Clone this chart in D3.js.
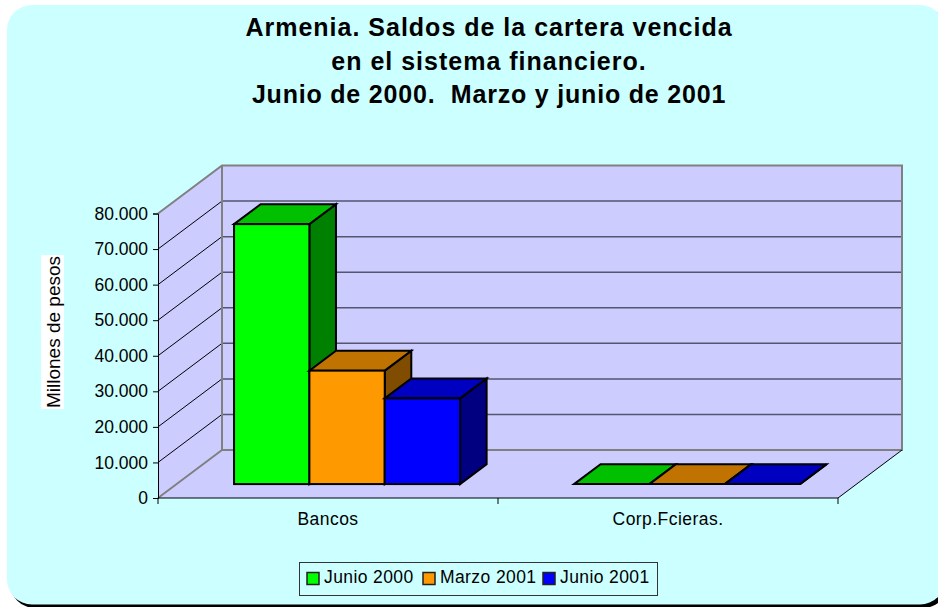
<!DOCTYPE html>
<html>
<head>
<meta charset="utf-8">
<script src="https://cdn.jsdelivr.net/npm/d3@7"></script>
<style>
  html, body { margin: 0; padding: 0; background: #fff; }
  svg { display: block; }
  text { font-family: "Liberation Sans", Arial, sans-serif; fill: #000; }
</style>
</head>
<body>
<div id="chart"></div>
<script>
const titleLines = ['Armenia. Saldos de la cartera vencida', 'en el sistema financiero.', 'Junio de 2000.  Marzo y junio de 2001'];
const categories = ['Bancos', 'Corp.Fcieras.'];
const seriesNames = ['Junio 2000', 'Marzo 2001', 'Junio 2001'];
const seriesFront = ['#00ff00', '#ff9900', '#0000ff'];
const seriesTop = ['#00c000', '#c07300', '#0000c0'];
const seriesSide = ['#008000', '#804d00', '#000080'];
const junio2000 = [73100, 0];
const marzo2001 = [31900, 0];
const junio2001 = [24100, 0];
const seriesValues = [junio2000, marzo2001, junio2001];
const yTicks = [0, 10000, 20000, 30000, 40000, 50000, 60000, 70000, 80000];
const yTitle = 'Millones de pesos';

const width = 938, height = 607;

// front plane of the 3d box, the depth offset gives the back wall
const plot = { left: 158, right: 838, top: 213.5, bottom: 498 };
const depth = { x: 64, y: -48 };
// where the bars sit inside the box depth (0 front, 1 back)
const barZ = [0.29, 0.705];

const svg = d3.select('#chart').append('svg')
  .attr('width', width)
  .attr('height', height);

// card and its black shadow
svg.append('rect').attr('x', 10).attr('y', 8).attr('width', 938).attr('height', 600)
  .attr('rx', 25).attr('fill', '#000');
svg.append('rect').attr('x', 7).attr('y', 5).attr('width', 938).attr('height', 599.5)
  .attr('rx', 25).attr('fill', '#ccffff');

const x0 = d3.scaleBand().domain(d3.range(categories.length)).range([plot.left, plot.right]);
const x1 = d3.scaleBand().domain(d3.range(seriesNames.length)).range([57.5, 283.5]);
const y = d3.scaleLinear().domain([0, 80000]).range([plot.bottom, plot.top]);

function px(x, z) { return x + z * depth.x; }
function py(yy, z) { return yy + z * depth.y; }
function poly(points) { return points.map(p => p.join(',')).join(' '); }

const yMax = y.range()[1], yMin = y.range()[0];

// walls and floor
svg.append('polygon')
  .attr('points', poly([[px(plot.left, 0), yMin], [px(plot.left, 1), py(yMin, 1)], [px(plot.left, 1), py(yMax, 1)], [px(plot.left, 0), yMax]]))
  .attr('fill', '#ccccff');
svg.append('polygon')
  .attr('points', poly([[px(plot.left, 0), yMin], [px(plot.right, 0), yMin], [px(plot.right, 1), py(yMin, 1)], [px(plot.left, 1), py(yMin, 1)]]))
  .attr('fill', '#ccccff');
svg.append('rect')
  .attr('x', px(plot.left, 1)).attr('y', py(yMax, 1))
  .attr('width', plot.right - plot.left).attr('height', yMin - yMax)
  .attr('fill', '#ccccff');

// gridlines, side wall then back wall
const gridTicks = yTicks.slice(1, -1);
svg.append('g').selectAll('line').data(gridTicks).enter().append('line')
  .attr('x1', px(plot.left, 0)).attr('y1', d => y(d))
  .attr('x2', px(plot.left, 1)).attr('y2', d => py(y(d), 1))
  .attr('stroke', '#000').attr('stroke-width', 1);
svg.append('g').selectAll('line').data(gridTicks).enter().append('line')
  .attr('x1', px(plot.left, 1)).attr('y1', d => py(y(d), 1))
  .attr('x2', px(plot.right, 1)).attr('y2', d => py(y(d), 1))
  .attr('stroke', '#555570').attr('stroke-width', 1.5);

// grey edges of the box
svg.append('path')
  .attr('d', 'M' + px(plot.left, 0) + ',' + yMax + 'L' + px(plot.left, 1) + ',' + py(yMax, 1)
    + 'H' + px(plot.right, 1) + 'V' + py(yMin, 1) + 'H' + px(plot.left, 1) + 'V' + py(yMax, 1)
    + 'M' + px(plot.left, 1) + ',' + py(yMin, 1) + 'L' + px(plot.left, 0) + ',' + yMin)
  .attr('fill', 'none').attr('stroke', '#808080').attr('stroke-width', 2);
// right floor edge
svg.append('line')
  .attr('x1', px(plot.right, 0)).attr('y1', yMin)
  .attr('x2', px(plot.right, 1)).attr('y2', py(yMin, 1))
  .attr('stroke', '#000').attr('stroke-width', 1);

// bars
const bars = [];
categories.forEach((c, ci) => {
  seriesValues.forEach((vals, si) => {
    bars.push({ ci: ci, si: si, value: vals[ci] });
  });
});

const barG = svg.append('g')
  .attr('stroke', '#000').attr('stroke-width', 2).attr('stroke-linejoin', 'miter');

// left to right so each bar covers the side of the one before it
bars.forEach(d => {
  const xa = x0(d.ci) + x1(d.si);
  const xb = xa + x1.bandwidth();
  const yt = y(d.value), yb = y(0);
  const fx = z => px(0, z), fy = z => py(0, z);
  const a = barZ[0], b = barZ[1];
  const g = barG.append('g');
  g.append('polygon') // side
    .attr('points', poly([[xb + fx(a), yb + fy(a)], [xb + fx(b), yb + fy(b)], [xb + fx(b), yt + fy(b)], [xb + fx(a), yt + fy(a)]]))
    .attr('fill', seriesSide[d.si]);
  g.append('polygon') // top
    .attr('points', poly([[xa + fx(a), yt + fy(a)], [xb + fx(a), yt + fy(a)], [xb + fx(b), yt + fy(b)], [xa + fx(b), yt + fy(b)]]))
    .attr('fill', seriesTop[d.si]);
  g.append('rect') // front
    .attr('x', xa + fx(a)).attr('y', yt + fy(a))
    .attr('width', x1.bandwidth()).attr('height', yb - yt)
    .attr('fill', seriesFront[d.si]);
});

// axes
const yAxis = d3.axisLeft(y).tickValues(yTicks).tickSize(5).tickPadding(5)
  .tickFormat(d => d3.format(',')(d).replace(/,/g, '.'));
const yG = svg.append('g').attr('transform', 'translate(' + plot.left + ',0)').call(yAxis);
yG.selectAll('text').style('font-size', '17.5px').attr('fill', '#000');
yG.selectAll('line').attr('stroke', '#000');
yG.select('.domain').attr('stroke', '#000');

const xAxis = d3.axisBottom(x0).tickSize(0).tickPadding(15).tickFormat(i => categories[i]);
const xG = svg.append('g').attr('transform', 'translate(0,' + plot.bottom + ')').call(xAxis);
xG.select('.domain').remove();
xG.append('line').attr('x1', plot.left).attr('x2', plot.right).attr('stroke', '#000');
xG.selectAll('.tick text').style('font-size', '17.5px').style('letter-spacing', '0.45px').attr('fill', '#000');
xG.selectAll('.edge').data([plot.left, x0(1), plot.right]).enter().append('line')
  .attr('class', 'edge').attr('x1', d => d).attr('x2', d => d)
  .attr('y1', 0).attr('y2', 6).attr('stroke', '#000');

// title
svg.append('g').selectAll('text').data(titleLines).enter().append('text')
  .attr('x', 489).attr('y', (d, i) => 36 + i * 33.5)
  .attr('text-anchor', 'middle')
  .style('font-size', '25px').style('font-weight', 'bold')
  .style('letter-spacing', (d, i) => i === 2 ? '0.8px' : '1px')
  .style('white-space', 'pre')
  .text(d => d);

// y axis title, sits on a white strip
svg.append('rect').attr('x', 41).attr('y', 255).attr('width', 23).attr('height', 154).attr('fill', '#fff');
svg.append('text')
  .attr('transform', 'translate(60,332) rotate(-90)')
  .attr('text-anchor', 'middle')
  .style('font-size', '19px')
  .text(yTitle);

// legend
const legend = svg.append('g').attr('transform', 'translate(299,562)');
legend.append('rect').attr('x', 0.5).attr('y', 0.5).attr('width', 358).attr('height', 33)
  .attr('fill', '#ccffff').attr('stroke', '#333');
const legendX = d3.scaleOrdinal().domain(seriesNames).range([8, 124, 244]);
seriesNames.forEach((name, i) => {
  legend.append('rect')
    .attr('x', legendX(name)).attr('y', 10.5).attr('width', 12).attr('height', 12)
    .attr('fill', seriesFront[i]).attr('stroke', '#222').attr('stroke-width', 1.5);
  legend.append('text')
    .attr('x', legendX(name) + 17).attr('y', 21)
    .style('font-size', '17.5px').style('letter-spacing', '0.4px')
    .text(name);
});
</script>
</body>
</html>
